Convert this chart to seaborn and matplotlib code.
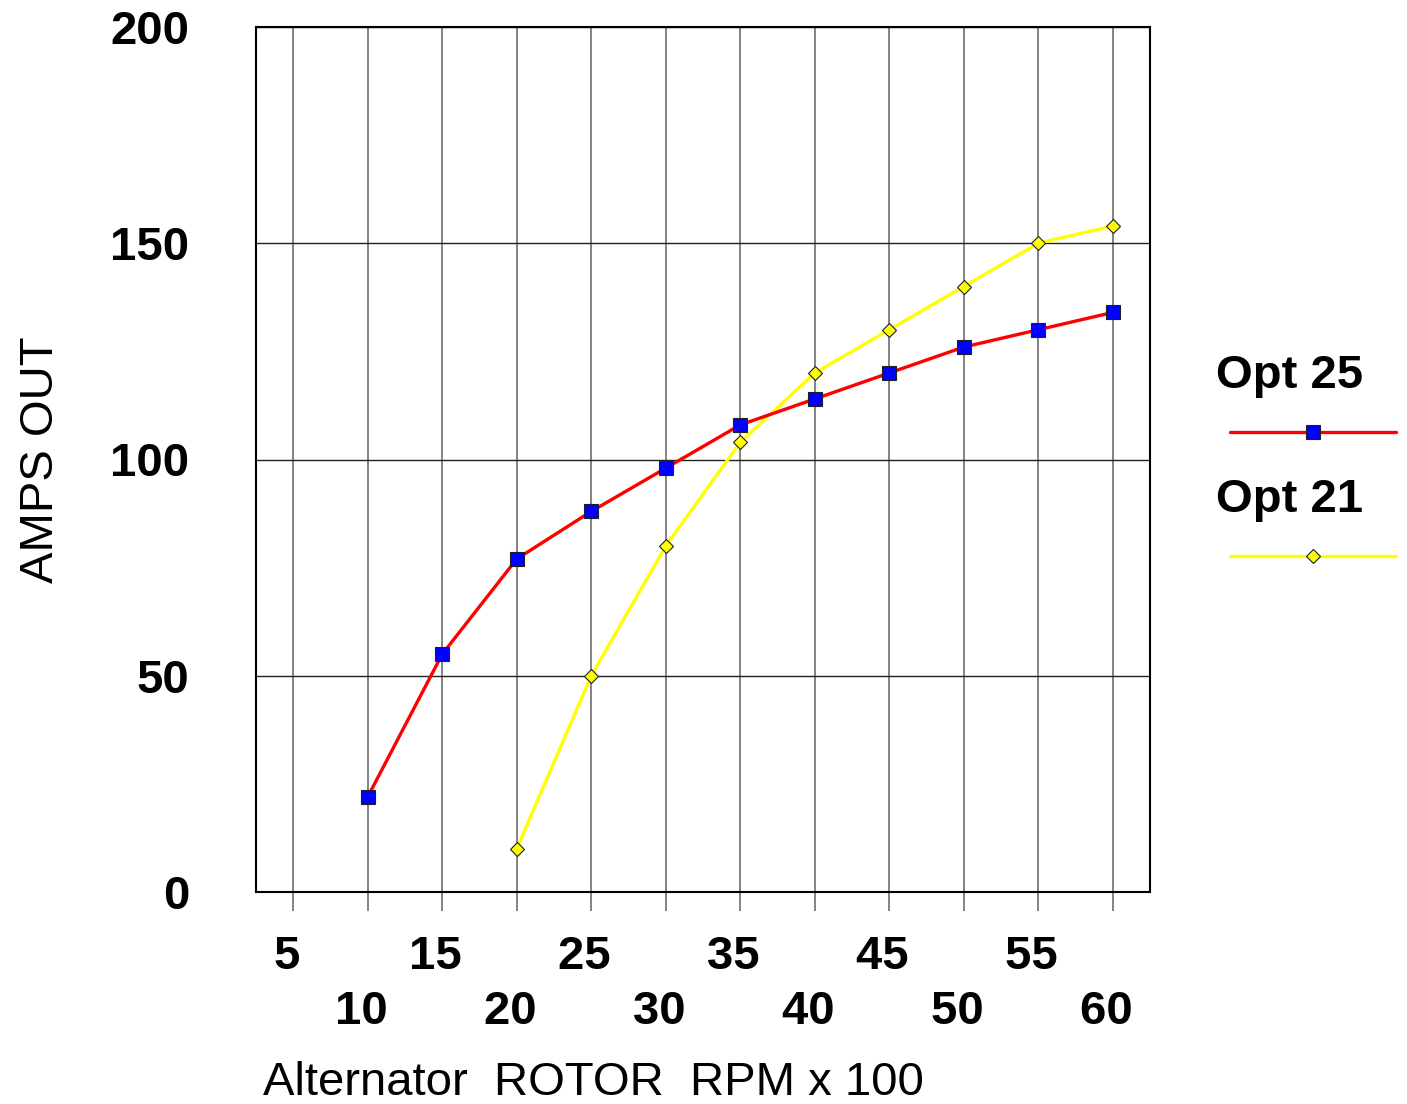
import numpy as np
import pandas as pd
import matplotlib
matplotlib.use("Agg")
import matplotlib.pyplot as plt
import seaborn as sns

# ============ DATA ============
rpm = [5, 10, 15, 20, 25, 30, 35, 40, 45, 50, 55, 60]
opt25_rpm = [10, 15, 20, 25, 30, 35, 40, 45, 50, 55, 60]
opt25_amps = [22, 55, 77, 88, 98, 108, 114, 120, 126, 130, 134]
opt21_rpm = [20, 25, 30, 35, 40, 45, 50, 55, 60]
opt21_amps = [10, 50, 80, 104, 120, 130, 140, 150, 154]
y_ticks = [0, 50, 100, 150, 200]

sns.set_style("white")
plt.rcParams['font.family'] = ['Liberation Sans', 'DejaVu Sans']
plt.rcParams['text.color'] = 'black'
plt.rcParams['axes.labelcolor'] = 'black'
plt.rcParams['xtick.labelcolor'] = 'black'
plt.rcParams['ytick.labelcolor'] = 'black'

FS = 34

fig = plt.figure(figsize=(14.07, 11.04), dpi=100)
ax = fig.add_axes([256 / 1407, 1 - 892 / 1104, (1150 - 256) / 1407, (892 - 27) / 1104])

df25 = pd.DataFrame({"rpm": opt25_rpm, "amps": opt25_amps})
df21 = pd.DataFrame({"rpm": opt21_rpm, "amps": opt21_amps})

sns.lineplot(data=df25, x="rpm", y="amps", ax=ax, color="#ff0000", lw=2.4,
             marker="s", markersize=9.5, markerfacecolor="#0000ff",
             markeredgecolor="#202020", markeredgewidth=0.8, zorder=4)
sns.lineplot(data=df21, x="rpm", y="amps", ax=ax, color="#ffff00", lw=2.4,
             marker="D", markersize=7, markerfacecolor="#ffff00",
             markeredgecolor="#202020", markeredgewidth=0.8, zorder=3)

ax.set_xlim(2.5, 62.5)
ax.set_ylim(0, 200)
ax.set_xticks(rpm)
# staggered labels, trailing space nudges them a bit left like the original
ax.set_xticklabels([str(v) + " " if i % 2 == 0 else "\n" + str(v) + " " for i, v in enumerate(rpm)],
                   fontsize=FS, fontweight="bold", linespacing=1.32)
ax.set_yticks(y_ticks)
ax.set_yticklabels([str(v) for v in y_ticks], fontsize=FS, fontweight="bold")

ax.grid(axis="x", color="#606060", lw=1.1)
ax.grid(axis="y", color="#202020", lw=1.0)
ax.tick_params(axis="x", length=14, width=1.1, color="#606060", pad=17, bottom=True)
ax.tick_params(axis="y", length=0, pad=48)
for s in ax.spines.values():
    s.set_color("black")
    s.set_linewidth(1.5)

ax.set_xlabel("Alternator  ROTOR  RPM x 100", fontsize=FS)
ax.set_ylabel("AMPS OUT", fontsize=FS)
ax.xaxis.set_label_coords(0.377, -0.195)
ax.yaxis.set_label_coords(-0.216, 0.5)

# legend: title on top, line + marker below
lines = ax.get_lines()
h25 = lines[0]
h21 = lines[1]
leg_kw = dict(loc="center", frameon=False, handlelength=3.5, handletextpad=1.0,
              markerfirst=False, fontsize=FS, labelspacing=0.35,
              title_fontproperties={"size": FS, "weight": "bold"})
leg1 = ax.legend([h25], [""], title="Opt 25", bbox_to_anchor=(1.156, 0.561), **leg_kw)
ax.add_artist(leg1)
ax.legend([h21], [""], title="Opt 21", bbox_to_anchor=(1.156, 0.418), **leg_kw)

fig.savefig("out.png", dpi=100)
